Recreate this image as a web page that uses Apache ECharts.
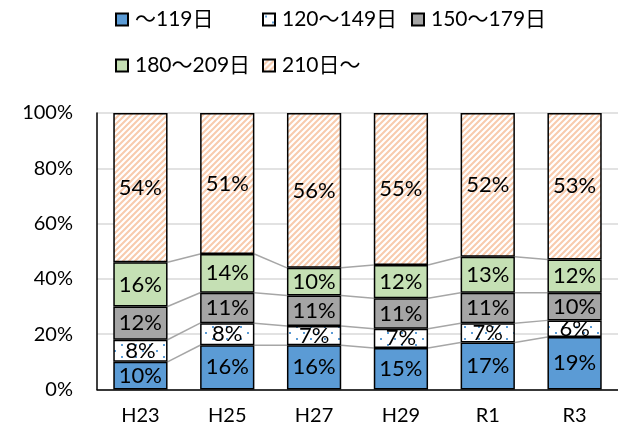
<!DOCTYPE html>
<html>
<head>
<meta charset="utf-8">
<script src="https://cdn.jsdelivr.net/npm/echarts@6/dist/echarts.min.js"></script>
<style>
  html, body { margin: 0; padding: 0; background: #fff; }
  #chart { width: 618px; height: 438px; }
</style>
</head>
<body>
<div id="chart"></div>
<script>
// 年度
var categories = ['H23', 'H25', 'H27', 'H29', 'R1', 'R3'];
// 区分ごとの割合(%)
var d119 = [10, 16, 16, 15, 17, 19];
var d149 = [8, 8, 7, 7, 7, 6];
var d179 = [12, 11, 11, 11, 11, 10];
var d209 = [16, 14, 10, 12, 13, 12];
var d210 = [54, 51, 56, 55, 52, 53];
var names = ['～119日', '120～149日', '150～179日', '180～209日', '210日～'];
var yTicks = [0, 20, 40, 60, 80, 100];

var FONT = 'Lato, "Noto Sans CJK JP", sans-serif';

// 模様(ドット・斜線)
function dotPattern() {
    var c = document.createElement('canvas');
    c.width = 14; c.height = 12;
    var ctx = c.getContext('2d');
    ctx.fillStyle = '#fff';
    ctx.fillRect(0, 0, 14, 12);
    ctx.fillStyle = '#5B9BD5';
    ctx.fillRect(2, 2, 2, 2);
    ctx.fillRect(9, 8, 2, 2);
    return c;
}
function stripePattern() {
    var s = 6;
    var c = document.createElement('canvas');
    c.width = s; c.height = s;
    var ctx = c.getContext('2d');
    ctx.fillStyle = '#fff';
    ctx.fillRect(0, 0, s, s);
    ctx.strokeStyle = '#F8CBAD';
    ctx.lineWidth = 2.1;
    ctx.beginPath();
    ctx.moveTo(-1, s + 1); ctx.lineTo(s + 1, -1);
    ctx.moveTo(-1, 1); ctx.lineTo(1, -1);
    ctx.moveTo(s - 1, s + 1); ctx.lineTo(s + 1, s - 1);
    ctx.stroke();
    return c;
}

var fills = [
    '#5B9BD5',
    { image: dotPattern(), repeat: 'repeat' },
    '#A5A5A5',
    '#C5E0B4',
    { image: stripePattern(), repeat: 'repeat' }
];
var seriesData = [d119, d149, d179, d209, d210];

// 区分線用の累積値
var cum = [];
var run = categories.map(function () { return 0; });
for (var k = 0; k < 4; k++) {
    run = run.map(function (v, i) { return v + seriesData[k][i]; });
    cum.push(run.slice());
}
var lineItems = [];
for (var i = 0; i < categories.length - 1; i++) {
    for (var k2 = 0; k2 < 4; k2++) lineItems.push([i, k2]);
}

var series = seriesData.map(function (arr, idx) {
    return {
        name: names[idx],
        type: 'bar',
        stack: 'total',
        barWidth: '62.5%',
        data: arr,
        itemStyle: { color: fills[idx], borderColor: '#000', borderWidth: 1.5 },
        label: {
            show: true,
            position: 'inside',
            formatter: '{c}%',
            color: '#000',
            fontFamily: FONT,
            fontSize: 22
        },
        z: 3
    };
});

series.push({
    type: 'custom',
    silent: true,
    z: 2,
    data: lineItems,
    renderItem: function (params, api) {
        var i = api.value(0), k = api.value(1);
        var half = api.size([1, 0])[0] * 0.3125;
        var p1 = api.coord([i, cum[k][i]]);
        var p2 = api.coord([i + 1, cum[k][i + 1]]);
        return {
            type: 'line',
            shape: { x1: p1[0] + half, y1: p1[1], x2: p2[0] - half, y2: p2[1] },
            style: { stroke: '#A6A6A6', lineWidth: 1.5 }
        };
    }
});

var legendPos = [[115, 9], [262, 9], [411, 9], [115, 55], [262, 55]];
var legends = names.map(function (n, idx) {
    return {
        data: [n],
        icon: 'rect',
        left: legendPos[idx][0],
        top: legendPos[idx][1],
        itemWidth: 12,
        itemHeight: 12,
        padding: 0,
        selectedMode: false,
        textStyle: { color: '#000', fontFamily: FONT, fontSize: 21, padding: [0, 0, 0, 2] }
    };
});

var chart = echarts.init(document.getElementById('chart'));
chart.setOption({
    animation: false,
    legend: legends,
    grid: { left: 97, right: -4, top: 113, bottom: 48.5, containLabel: false },
    xAxis: {
        type: 'category',
        data: categories,
        axisTick: { show: false },
        axisLine: { lineStyle: { color: '#000', width: 1.5 } },
        axisLabel: { color: '#000', fontFamily: FONT, fontSize: 20, margin: 16 }
    },
    yAxis: {
        type: 'value',
        min: yTicks[0],
        max: yTicks[yTicks.length - 1],
        interval: 20,
        axisLine: { show: true, lineStyle: { color: '#000', width: 1.5 } },
        axisTick: { show: false },
        splitLine: { lineStyle: { color: '#D9D9D9', width: 1.5 } },
        axisLabel: { color: '#000', fontFamily: FONT, fontSize: 20, margin: 24, formatter: '{value}%' }
    },
    series: series
});
</script>
</body>
</html>
